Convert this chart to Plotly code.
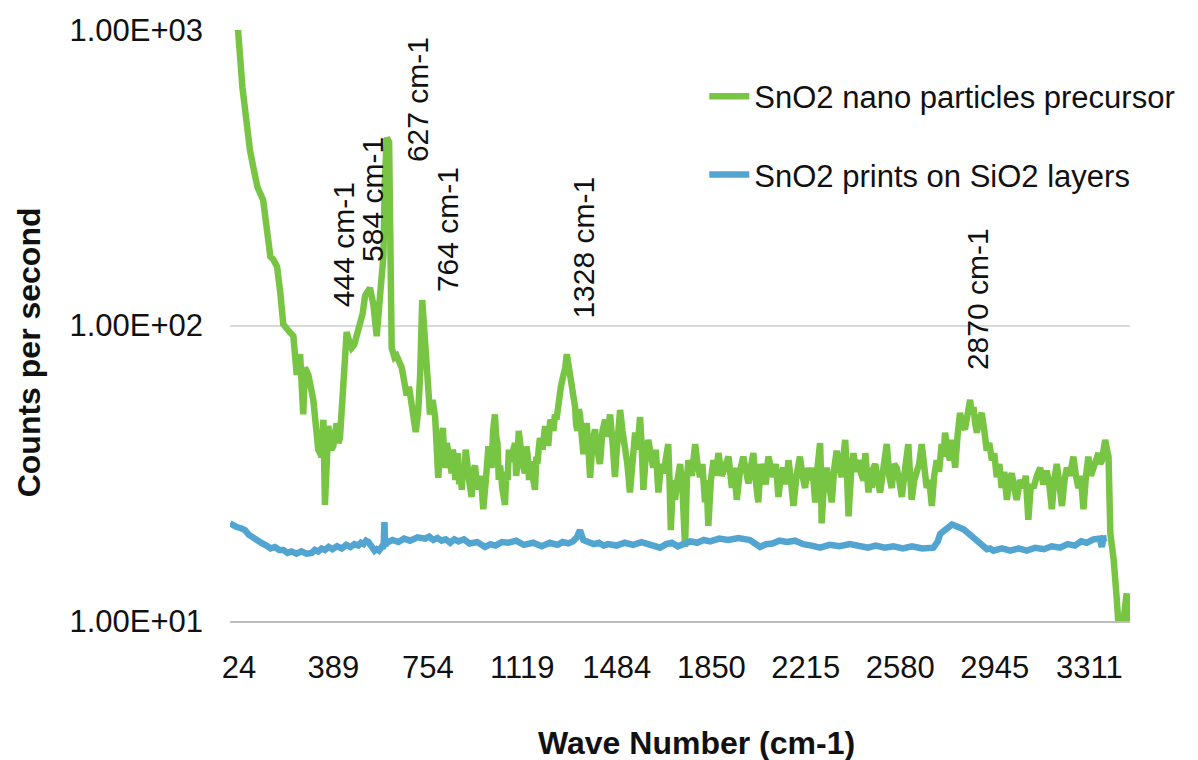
import plotly.graph_objects as go

# ---------------- data ----------------
green_wn = [24, 55, 72, 90, 101, 115, 130, 152, 167, 180, 192, 206, 218, 230, 250, 269, 282, 295,
            307, 314, 327, 346, 358, 365, 378, 385, 391, 404, 415, 423, 436, 443, 449, 456, 462,
            475, 485, 494, 504, 514, 527, 537, 546, 556, 565, 578, 591, 604, 612, 617, 622, 630,
            639, 644, 649, 660, 668, 688, 697, 707, 716, 726, 742, 752, 759,
            767, 771, 775, 780, 784, 790, 797, 807, 817, 823, 829, 836, 842, 847, 852, 857, 862,
            871, 881, 885, 890, 895, 900, 905, 910, 915, 920, 925, 930, 935, 939, 948, 958, 964,
            971, 978, 985, 994, 1003, 1013, 1023, 1029, 1035, 1041, 1048, 1053, 1058, 1063, 1068,
            1077, 1087, 1092, 1097, 1102, 1107, 1116, 1126, 1130, 1135, 1140, 1145, 1155, 1164,
            1170, 1175, 1180, 1184, 1193, 1203, 1208, 1212, 1217, 1222, 1232, 1242, 1248, 1255,
            1262, 1268, 1274, 1280, 1286, 1293, 1303, 1313, 1320, 1326, 1332, 1338, 1348, 1358,
            1362, 1367, 1372, 1377, 1384, 1390, 1397, 1403, 1410, 1416, 1425, 1435, 1444, 1454,
            1464, 1474, 1483, 1493, 1503, 1512, 1517, 1522, 1527, 1532, 1541, 1551, 1560, 1570,
            1580, 1590, 1599, 1609, 1615, 1622, 1631, 1641, 1650, 1660, 1670, 1680, 1690, 1699,
            1708, 1718, 1723, 1728, 1736, 1744, 1754, 1764, 1773, 1783, 1790, 1796, 1809, 1822,
            1831, 1841, 1850, 1860, 1866, 1873, 1883, 1893, 1902, 1912, 1925, 1938, 1951, 1964,
            1973, 1983, 1995, 2008, 2018, 2028, 2037, 2047, 2056, 2066, 2076, 2086, 2095, 2105,
            2114, 2124, 2134, 2144, 2153, 2163, 2173, 2183, 2192, 2202, 2214, 2227, 2237, 2247,
            2256, 2266, 2276, 2286, 2295, 2305, 2308, 2311, 2321, 2331, 2340, 2350, 2360, 2369,
            2379, 2389, 2395, 2402, 2408, 2415, 2425, 2434, 2444, 2453, 2463, 2473, 2480, 2492,
            2499, 2505, 2512, 2518, 2528, 2537, 2550, 2563, 2572, 2582, 2591, 2601, 2611, 2621,
            2634, 2646, 2652, 2659, 2669, 2679, 2688, 2698, 2708, 2717, 2727, 2737, 2746, 2756,
            2765, 2775, 2782, 2788, 2798, 2807, 2817, 2827, 2836, 2846, 2856, 2865, 2875, 2885,
            2891, 2898, 2904, 2911, 2920, 2930, 2940, 2949, 2959, 2969, 2978, 2988, 2998, 3007,
            3017, 3027, 3036, 3046, 3056, 3065, 3078, 3091, 3100, 3110, 3120, 3130, 3143, 3156,
            3168, 3181, 3191, 3201, 3210, 3220, 3230, 3240, 3250, 3259, 3271, 3284, 3294, 3304,
            3313, 3323, 3333, 3342, 3352, 3362, 3372, 3381, 3388, 3395, 3401, 3407, 3414, 3420,
            3427, 3440, 3452, 3459, 3475, 3490, 3498]
green_cps = [1250, 1000, 640, 448, 393, 340, 294, 266, 215, 171, 167, 158, 130, 101, 96, 92, 68, 80,
             50, 72, 68, 56, 44, 38, 36, 48, 24.7, 45.7, 38, 39, 46.7, 40, 41.6, 52, 68,
             95, 88, 84, 86, 92, 104, 110, 126, 130, 134, 118, 92, 126, 150, 171, 300, 432,
             418, 200, 84, 78, 79, 72, 62, 58, 62, 53, 43.6, 52, 68,
             122, 110, 105, 90, 79, 62, 50, 56, 49, 38, 30.5, 38, 41.6, 45, 36, 33, 40,
             36, 31.6, 38, 36, 30, 33.6, 37, 29, 33, 27.8, 34, 31, 38, 35.5, 30, 26.3, 32,
             33.6, 29, 28, 31, 23.9, 30, 39, 35, 33, 44, 50, 42, 40, 30, 33.6,
             28, 24.7, 32, 30, 38, 34.7, 37, 40, 31, 34, 44, 39, 34, 31.6,
             39, 36, 30, 34.7, 31, 27.8, 36, 34, 38, 41.6, 38, 45.7, 40, 40,
             48, 46.7, 44, 50, 48, 56, 62, 68, 72, 80, 74, 68, 58, 53,
             46, 44, 52, 50, 42, 36.7, 44, 46.7, 38, 30.5, 40, 44.5, 38, 34,
             44, 48, 42, 50, 40, 30.7, 36, 42, 48, 51.8, 44, 39.7, 34, 27.2,
             36, 43.4, 38, 49, 40, 27.8, 36, 41, 37, 33, 38, 27.2, 34, 31.6,
             35, 39.7, 30, 20.3, 30, 25.7, 30, 34, 28, 17.8, 30, 35, 31, 39.7,
             34, 30.7, 34, 25.2, 30, 21, 30, 35, 31, 37, 31, 33, 36, 28.2,
             33, 25.7, 32, 36, 32, 29.2, 33, 37, 30, 25.2, 34, 31.6, 29, 36,
             33, 30.7, 34, 26.3, 31, 33, 29, 35, 30, 24.5, 31, 36, 31, 28.2,
             33, 29.9, 33, 25.2, 33, 40, 33, 21.4, 30, 33, 29, 25.2, 33, 37.7,
             33, 30.7, 36, 41, 33, 22.6, 32, 37, 32, 35, 31.6, 29.9, 37, 27.2,
             33, 28.2, 33, 34, 30, 27.2, 33, 39.7, 31, 28.2, 34, 33, 30, 26.3,
             33, 39.7, 32, 25.7, 30, 31.6, 34, 39.7, 32, 28.2, 30, 24.5, 31, 35,
             32, 39.7, 36, 43.4, 38, 35, 41, 33, 42, 50.6, 46, 44.5, 50, 56,
             50, 53, 47, 43.4, 48, 50.6, 44, 37.7, 40, 35, 37, 30.7, 34, 28.2,
             32, 25.7, 30, 31.6, 28, 25.7, 30, 28.2, 31, 22, 29, 28.2, 31, 33,
             29, 32.3, 29, 23.9, 30, 34, 29, 24.5, 30, 33, 31, 36, 31, 28.2,
             31, 23.9, 31, 36, 31, 33, 35, 37, 34, 35, 38, 41, 38, 36,
             19.8, 16.1, 11.8, 9.5, 9.5, 12.4, 9.5]

blue_wn = [24, 37, 50, 66, 82, 96, 110, 122, 133, 149, 165, 181, 198, 214, 230, 246, 262, 281, 300,
           320, 340, 352, 365, 378, 391, 405, 420, 438, 456, 473, 490, 505, 520, 530, 540, 550,
           559, 567, 575, 583, 591, 600, 610, 615, 618, 621, 624, 630, 652, 675, 697, 720, 749,
           778, 794, 810, 826, 842, 858, 875, 891, 907, 928, 950, 980, 1010, 1030, 1050, 1075,
           1100, 1130, 1160, 1195, 1229, 1260, 1290, 1310, 1332, 1350, 1365, 1377, 1384, 1390,
           1409, 1430, 1450, 1468, 1486, 1518, 1550, 1582, 1615, 1650, 1686, 1710, 1732, 1755,
           1776, 1803, 1830, 1855, 1880, 1915, 1950, 1990, 2034, 2050, 2073, 2097, 2120, 2148,
           2176, 2208, 2240, 2272, 2305, 2342, 2380, 2420, 2460, 2490, 2520, 2555, 2588, 2625,
           2660, 2700, 2743, 2760, 2769, 2785, 2800, 2815, 2827, 2840, 2850, 2861, 2872, 2886,
           2900, 2912, 2924, 2937, 2950, 2962, 2975, 3008, 3040, 3072, 3104, 3137, 3170, 3200,
           3233, 3262, 3290, 3314, 3336, 3362, 3387, 3394, 3400, 3413]
blue_cps = [21.4, 21.0, 20.8, 20.6, 20.3, 19.6, 19.2, 18.9, 18.6, 18.3, 18.0, 17.6, 17.8, 17.4, 17.4,
            17.0, 17.2, 16.9, 17.2, 16.9, 17.0, 17.4, 17.2, 17.6, 17.4, 17.8, 17.5, 17.9, 17.6, 18.1,
            17.8, 18.2, 18.0, 18.4, 18.2, 18.7, 18.5, 18.0, 17.7, 17.3, 17.5, 17.3, 17.8, 17.6, 18.0,
            21.6, 18.0, 18.4, 18.8, 18.5, 19.0, 18.7, 19.2, 19.0, 19.3, 18.8, 19.1, 18.7, 18.9, 18.4,
            18.9, 18.6, 18.9, 18.3, 18.5, 17.8, 18.2, 18.0, 18.5, 18.4, 18.7, 18.1, 18.4, 17.9, 18.4,
            18.1, 18.5, 18.3, 18.6, 19.2, 20.3, 19.4, 18.8, 18.5, 18.2, 18.4, 18.0, 18.2, 18.0, 18.4,
            18.1, 18.5, 18.0, 17.7, 18.2, 18.4, 17.9, 18.1, 18.6, 18.4, 18.8, 18.6, 19.0, 18.8, 19.1,
            18.8, 18.3, 17.8, 18.2, 18.3, 18.7, 18.5, 18.7, 18.2, 18.0, 17.7, 18.1, 17.9, 18.2, 18.0,
            17.7, 18.0, 17.7, 17.9, 17.6, 17.9, 17.6, 17.7, 18.6, 19.7, 20.2, 20.8, 21.2, 21.0, 20.9,
            20.6, 20.4, 20.0, 19.6, 19.1, 18.7, 18.1, 17.8, 17.5, 17.6, 17.3, 17.6, 17.3, 17.6, 17.3,
            17.7, 17.5, 17.9, 17.7, 18.2, 18.0, 18.6, 18.4, 18.9, 19.0, 17.8, 19.0, 19.1]

series_names = ["SnO2 nano particles precursor", "SnO2 prints on SiO2 layers"]

x_ticks = [24, 389, 754, 1119, 1484, 1850, 2215, 2580, 2945, 3311]
y_ticks = [10, 100, 1000]
y_tick_text = ["1.00E+01", "1.00E+02", "1.00E+03"]

peak_labels = ["444 cm-1", "584 cm-1", "627 cm-1", "764 cm-1", "1328 cm-1", "2870 cm-1"]
peak_label_x = [461, 577, 747, 863, 1389, 2916]
peak_label_logy = [2.272, 2.425, 2.763, 2.323, 2.264, 2.09]

GREEN = "#78C543"
BLUE = "#52A5D1"
FONT = "Liberation Sans, Arial, sans-serif"

fig = go.Figure()
fig.add_trace(go.Scatter(x=green_wn, y=green_cps, mode="lines", name=series_names[0],
                         line=dict(color=GREEN, width=6.5), legendgroup="g1"))
fig.add_trace(go.Scatter(x=blue_wn, y=blue_cps, mode="lines", name=series_names[1],
                         line=dict(color=BLUE, width=6.5), legendgroup="g2"))

for txt, xv, yv in zip(peak_labels, peak_label_x, peak_label_logy):
    fig.add_annotation(x=xv, y=yv, xref="x", yref="y", text=txt, textangle=-90,
                       showarrow=False, font=dict(family=FONT, size=30, color="#111111"),
                       xanchor="center", yanchor="middle")

# axis titles
fig.add_annotation(x=(696 - 230) / 900, y=-0.207, xref="paper", yref="paper",
                   text="<b>Wave Number (cm-1)</b>", showarrow=False,
                   font=dict(family=FONT, size=32, color="#111111"),
                   xanchor="center", yanchor="middle")
fig.add_annotation(x=-0.223, y=(621 - 352) / 591, xref="paper", yref="paper",
                   text="<b>Counts per second</b>", showarrow=False, textangle=-90,
                   font=dict(family=FONT, size=32, color="#111111"),
                   xanchor="center", yanchor="middle")

# the page body adds an 8 px margin, so the figure is 8 px smaller and the margins 8 px tighter
fig.update_layout(
    width=1190, height=752,
    margin=dict(l=222, r=68, t=22, b=139, autoexpand=False),
    paper_bgcolor="white", plot_bgcolor="white",
    showlegend=True,
    legend=dict(x=0.527, y=0.933, xanchor="left", yanchor="top",
                font=dict(family=FONT, size=31, color="#111111"),
                bgcolor="rgba(0,0,0,0)", tracegroupgap=35, itemwidth=40),
    font=dict(family=FONT, color="#111111"),
)
fig.update_xaxes(range=[24, 3503], tickvals=x_ticks, ticktext=[str(v) for v in x_ticks],
                 showgrid=False, zeroline=False, showline=True, linecolor="#BDBDBD", linewidth=2,
                 ticks="", tickfont=dict(family=FONT, size=31, color="#111111"),
                 ticklabelstandoff=18, ticklabelshift=9)
fig.update_yaxes(type="log", range=[1, 3], tickvals=y_ticks, ticktext=y_tick_text,
                 showgrid=True, gridcolor="#D9D9D9", gridwidth=1.5, zeroline=False,
                 showline=False, ticks="", tickfont=dict(family=FONT, size=31, color="#111111"),
                 ticklabelstandoff=26)

fig.write_html("out.html")
